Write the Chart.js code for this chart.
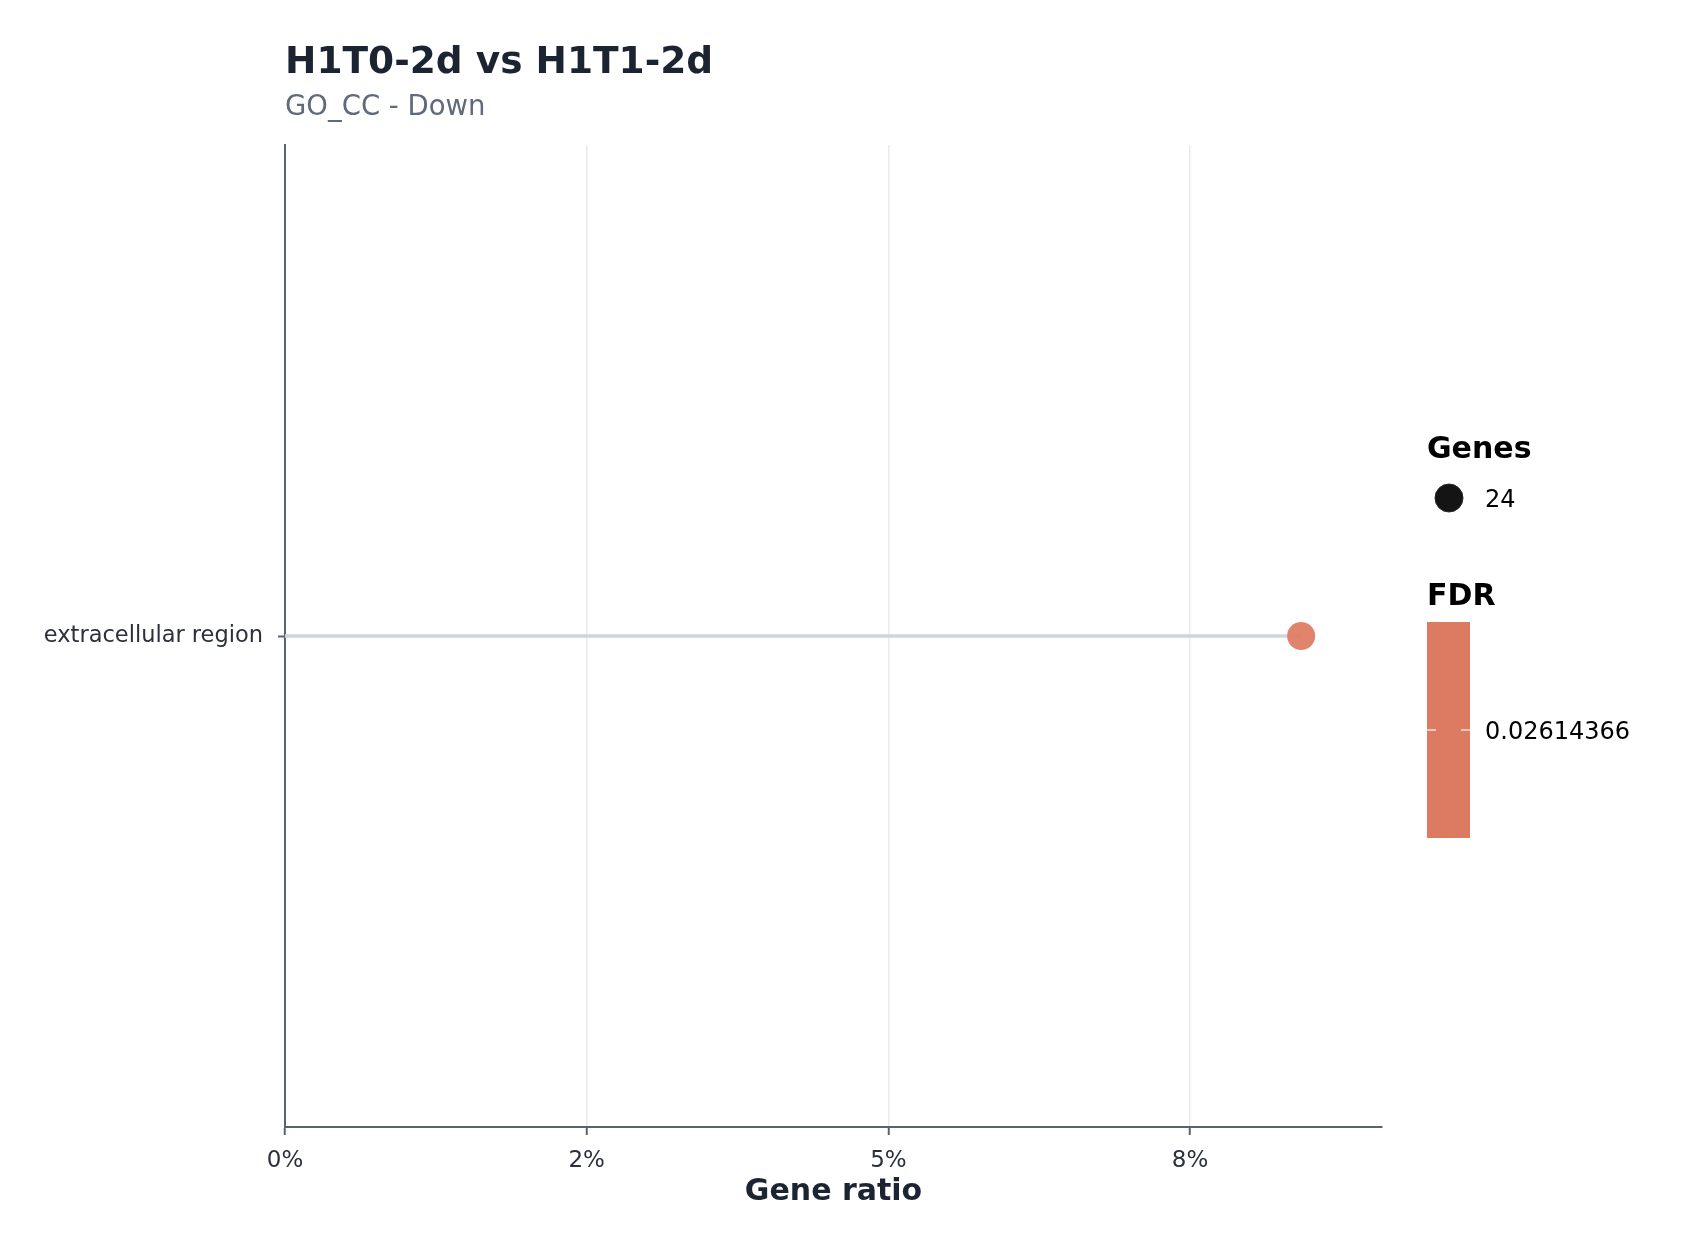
<!DOCTYPE html>
<html>
<head>
<meta charset="utf-8">
<script src="https://cdn.jsdelivr.net/npm/chart.js@4.4.1/dist/chart.umd.min.js"></script>
<style>
  html, body { margin: 0; padding: 0; background: #ffffff; }
  #wrap { width: 1700px; height: 1250px; }
</style>
</head>
<body>
<div id="wrap"><canvas id="chart" width="1700" height="1250"></canvas></div>
<script>
  // data
  const terms = ["extracellular region"];
  const geneRatio = [0.0842];
  const geneCounts = [24];
  const fdrValues = [0.02614366];
  const xTickValues = [0, 0.025, 0.05, 0.075];
  const xTickLabels = ["0%", "2%", "5%", "8%"];
  const xMax = 0.0909;

  const FONT = "'DejaVu Sans', sans-serif";
  const axisColor = "#5a6170";
  const textColor = "#2b303b";
  const dotColor = "rgba(221,122,96,0.92)";
  const barColor = "#dc7b62";

  // titles + Genes/FDR legend, drawn after the chart
  const overlay = {
    id: "overlay",
    afterDraw(chart) {
      const ctx = chart.ctx;
      ctx.save();
      ctx.textAlign = "left";
      ctx.textBaseline = "alphabetic";
      ctx.fillStyle = "#1b2430";
      ctx.font = "bold 37.5px " + FONT;
      ctx.fillText("H1T0-2d vs H1T1-2d", 285, 73);
      ctx.fillStyle = "#5f6b7a";
      ctx.font = "27.5px " + FONT;
      ctx.fillText("GO_CC - Down", 285, 115);

      // Genes
      ctx.fillStyle = "#000000";
      ctx.font = "bold 30px " + FONT;
      ctx.fillText("Genes", 1427, 458);
      ctx.beginPath();
      ctx.arc(1449, 498, 14, 0, Math.PI * 2);
      ctx.fillStyle = "#141414";
      ctx.fill();
      ctx.lineWidth = 1;
      ctx.strokeStyle = "#2a2a2a";
      ctx.stroke();
      ctx.fillStyle = "#000000";
      ctx.font = "24px " + FONT;
      ctx.textBaseline = "middle";
      ctx.fillText(String(geneCounts[0]), 1485, 501);

      // FDR colour bar
      ctx.textBaseline = "alphabetic";
      ctx.font = "bold 30px " + FONT;
      ctx.fillText("FDR", 1427, 605);
      ctx.fillStyle = barColor;
      ctx.fillRect(1427, 622, 43, 216);
      ctx.strokeStyle = "#f6e0d8";
      ctx.lineWidth = 1.5;
      ctx.beginPath();
      ctx.moveTo(1427, 730); ctx.lineTo(1436, 730);
      ctx.moveTo(1461, 730); ctx.lineTo(1470, 730);
      ctx.stroke();
      ctx.fillStyle = "#000000";
      ctx.font = "24px " + FONT;
      ctx.textBaseline = "middle";
      ctx.fillText(String(fdrValues[0]), 1485, 733);
      ctx.restore();
    },
  };

  new Chart(document.getElementById("chart"), {
    type: "scatter",
    data: {
      datasets: [
        {
          type: "line",
          label: "stem",
          data: terms.map((t, i) => [{ x: 0, y: t }, { x: geneRatio[i], y: t }]).flat(),
          borderColor: "#cfd5dc",
          borderWidth: 3.5,
          pointRadius: 0,
          showLine: true,
          order: 1,
        },
        {
          label: "Genes",
          data: terms.map((t, i) => ({ x: geneRatio[i], y: t })),
          backgroundColor: dotColor,
          borderWidth: 0,
          pointRadius: 14,
          pointHoverRadius: 14,
          order: 0,
        },
      ],
    },
    options: {
      responsive: false,
      animation: false,
      devicePixelRatio: 1,
      layout: { padding: { top: 145, right: 318, bottom: 0, left: 0 } },
      plugins: { legend: { display: false }, tooltip: { enabled: false } },
      scales: {
        x: {
          type: "linear",
          min: 0,
          max: xMax,
          afterBuildTicks: (scale) => {
            scale.ticks = xTickValues.map((v) => ({ value: v }));
          },
          afterFit: (scale) => {
            scale.height = 123;
          },
          ticks: {
            callback: (v, i) => xTickLabels[i],
            color: textColor,
            font: { family: FONT, size: 23 },
            padding: 12,
            maxRotation: 0,
          },
          grid: {
            color: "#e8ebef",
            lineWidth: 1.5,
            tickColor: axisColor,
            tickWidth: 2,
            tickLength: 8,
          },
          border: { display: true, color: axisColor, width: 2 },
          title: {
            display: true,
            text: "Gene ratio",
            color: "#1b2430",
            font: { family: FONT, size: 30, weight: "bold" },
            padding: { top: 0, bottom: 40 },
          },
        },
        y: {
          type: "category",
          labels: terms,
          offset: true,
          afterFit: (scale) => {
            scale.width = 285;
          },
          ticks: {
            color: textColor,
            font: { family: FONT, size: 22.5 },
            padding: 15,
          },
          grid: {
            drawOnChartArea: false,
            tickColor: axisColor,
            tickWidth: 2,
            tickLength: 7,
          },
          border: { display: true, color: axisColor, width: 2 },
        },
      },
    },
    plugins: [overlay],
  });
</script>
</body>
</html>
